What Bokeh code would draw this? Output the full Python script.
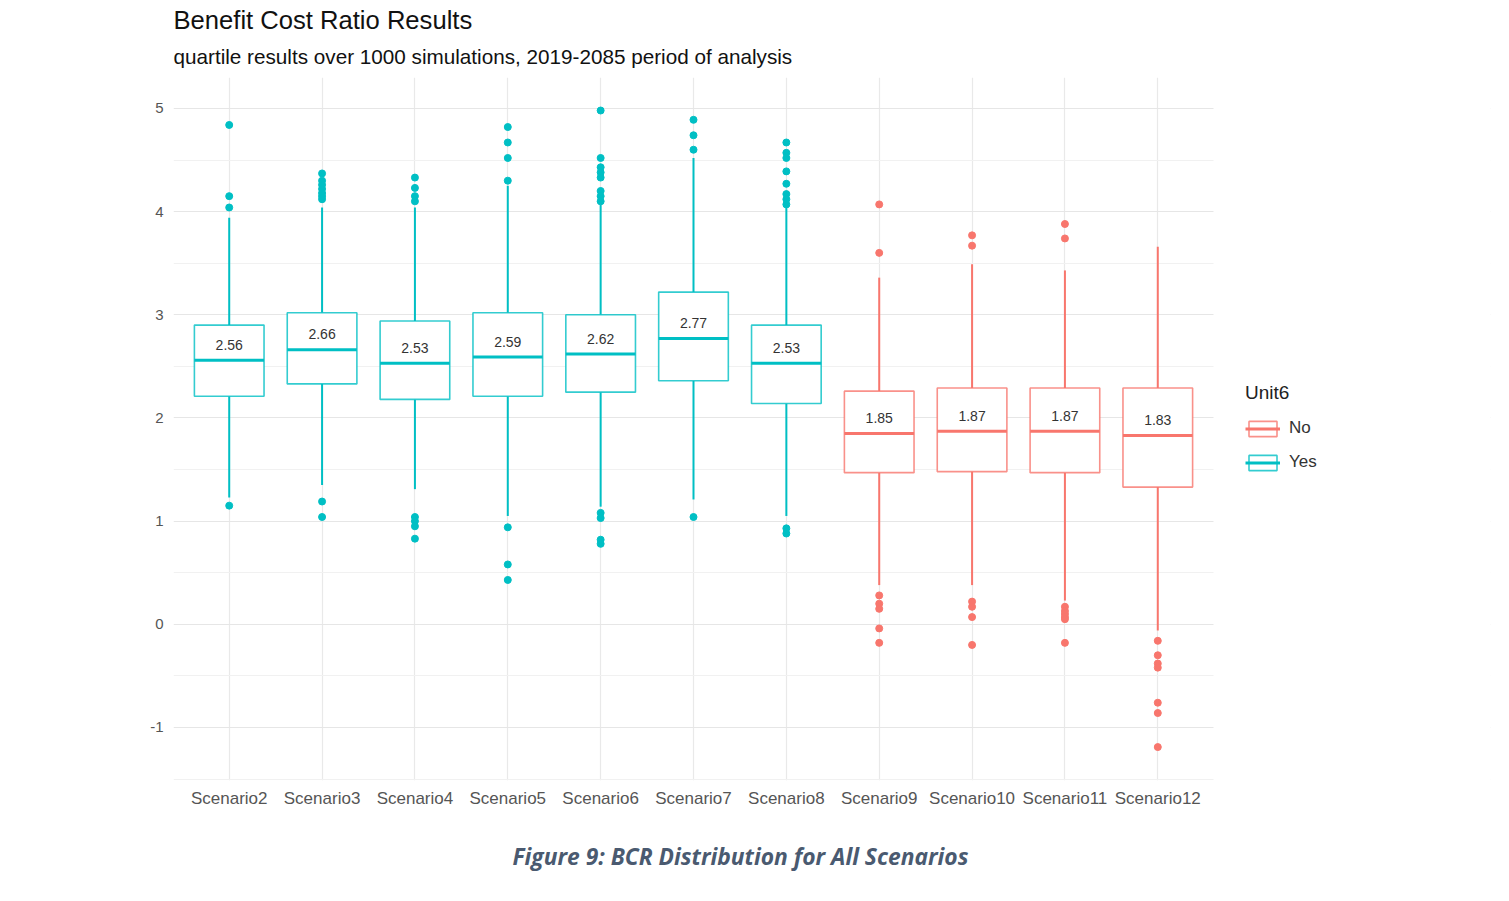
from bokeh.plotting import figure
from bokeh.models import (ColumnDataSource, FixedTicker, Legend, LegendItem, Range1d, Title,
                          BoxAnnotation)
from bokeh.embed import file_html
from bokeh.resources import INLINE
from bokeh.core.properties import value

# ---------------- data ----------------
scenarios = ["Scenario2", "Scenario3", "Scenario4", "Scenario5", "Scenario6", "Scenario7",
             "Scenario8", "Scenario9", "Scenario10", "Scenario11", "Scenario12"]
unit6 = ["Yes", "Yes", "Yes", "Yes", "Yes", "Yes", "Yes", "No", "No", "No", "No"]
q1 = [2.21, 2.33, 2.18, 2.21, 2.25, 2.36, 2.14, 1.47, 1.48, 1.47, 1.33]
median = [2.56, 2.66, 2.53, 2.59, 2.62, 2.77, 2.53, 1.85, 1.87, 1.87, 1.83]
q3 = [2.90, 3.02, 2.94, 3.02, 3.00, 3.22, 2.90, 2.26, 2.29, 2.29, 2.29]
whisker_low = [1.23, 1.35, 1.31, 1.05, 1.14, 1.21, 1.05, 0.38, 0.38, 0.23, -0.06]
whisker_high = [3.94, 4.04, 4.04, 4.25, 4.07, 4.52, 4.04, 3.36, 3.49, 3.43, 3.66]
outliers = [
    [4.84, 4.15, 4.04, 1.15],
    [4.37, 4.30, 4.26, 4.22, 4.18, 4.15, 4.12, 1.19, 1.04],
    [4.33, 4.23, 4.15, 4.10, 1.04, 1.00, 0.95, 0.83],
    [4.82, 4.67, 4.52, 4.30, 0.94, 0.58, 0.43],
    [4.98, 4.52, 4.43, 4.38, 4.33, 4.20, 4.15, 4.10, 1.08, 1.03, 0.82, 0.78],
    [4.89, 4.74, 4.60, 1.04],
    [4.67, 4.57, 4.52, 4.39, 4.27, 4.17, 4.12, 4.07, 0.93, 0.88],
    [4.07, 3.60, 0.28, 0.20, 0.15, -0.04, -0.18],
    [3.77, 3.67, 0.22, 0.17, 0.07, -0.20],
    [3.88, 3.74, 0.17, 0.13, 0.10, 0.07, 0.05, -0.18],
    [-0.16, -0.30, -0.38, -0.42, -0.76, -0.86, -1.19],
]
y_ticks = [-1, 0, 1, 2, 3, 4, 5]
y_tick_labels = ["-1", "0", "1", "2", "3", "4", "5"]
groups = ["No", "Yes"]
group_colors = {"No": "#F8766D", "Yes": "#00BFC4"}

title_text = "Benefit Cost Ratio Results"
subtitle_text = "quartile results over 1000 simulations, 2019-2085 period of analysis"
caption_text = "Figure 9: BCR Distribution for All Scenarios"
legend_title = "Unit6"

# ---------------- figure ----------------
FONT = "Liberation Sans"
BOX_W = 0.75
PANEL_END = 11.6          # right end of the plotting panel (data units)
PX_PER_UNIT = 1040 / 11.2  # horizontal scale of the panel
FRAME_W = 1317             # frame extends past the panel to host the legend
x_end = 0.4 + FRAME_W / PX_PER_UNIT

p = figure(width=1500, height=900,
           x_range=Range1d(0.4, x_end), y_range=Range1d(-1.514, 5.30),
           output_backend="svg", toolbar_location=None,
           min_border_left=173, min_border_right=1500 - 173 - FRAME_W,
           min_border_top=77, min_border_bottom=120)
p.outline_line_color = None
p.background_fill_color = "white"
p.border_fill_color = "white"

# axes
p.xaxis.ticker = FixedTicker(ticks=list(range(1, len(scenarios) + 1)))
p.xaxis.major_label_overrides = {i + 1: s for i, s in enumerate(scenarios)}
p.yaxis.ticker = FixedTicker(ticks=y_ticks, minor_ticks=[t + 0.5 for t in [-2] + y_ticks])
p.yaxis.major_label_overrides = dict(zip(y_ticks, y_tick_labels))
for ax in (p.xaxis[0], p.yaxis[0]):
    ax.axis_line_color = None
    ax.major_tick_line_color = None
    ax.minor_tick_line_color = None
    ax.major_label_text_font = FONT
    ax.major_label_text_color = "#555555"
p.xaxis.major_label_text_font_size = "17px"
p.yaxis.major_label_text_font_size = "15px"
p.xaxis.major_label_standoff = 2
p.yaxis.major_label_standoff = 4

p.xgrid.grid_line_color = "#e9e9e9"
p.xgrid.grid_line_width = 1.2
p.ygrid.grid_line_color = "#e6e6e6"
p.ygrid.grid_line_width = 1.2
p.ygrid.minor_grid_line_color = "#f1f1f1"
p.ygrid.minor_grid_line_width = 1.0

# blank out the grid to the right of the panel (legend area)
p.add_layout(BoxAnnotation(left=PANEL_END, fill_color="white", fill_alpha=1.0,
                           line_color=None))

legend_items = {}
for g in groups:
    idx = [i for i, u in enumerate(unit6) if u == g]
    xs = [i + 1 for i in idx]
    c = group_colors[g]
    src = ColumnDataSource(dict(
        x=xs,
        x0=[x - BOX_W / 2 for x in xs],
        x1=[x + BOX_W / 2 for x in xs],
        q1=[q1[i] for i in idx],
        q3=[q3[i] for i in idx],
        med=[median[i] for i in idx],
        lo=[whisker_low[i] for i in idx],
        hi=[whisker_high[i] for i in idx],
        lab=["%.2f" % median[i] for i in idx],
        laby=[median[i] + 0.15 for i in idx],
    ))
    p.segment(x0="x", y0="q3", x1="x", y1="hi", source=src, line_color=c, line_width=2)
    p.segment(x0="x", y0="q1", x1="x", y1="lo", source=src, line_color=c, line_width=2)
    box = p.vbar(x="x", width=BOX_W, bottom="q1", top="q3", source=src,
                 fill_color="white", line_color=c, line_alpha=0.8, line_width=1.6)
    med = p.segment(x0="x0", y0="med", x1="x1", y1="med", source=src,
                    line_color=c, line_width=3)
    ox, oy = [], []
    for i in idx:
        for v in outliers[i]:
            ox.append(i + 1)
            oy.append(v)
    p.scatter(ox, oy, size=7, fill_color=c, line_color=c)
    p.text(x="x", y="laby", text="lab", source=src, text_align="center",
           text_baseline="middle", text_font=value(FONT), text_font_size="14px",
           text_color="#333333")
    legend_items[g] = LegendItem(label=g, renderers=[box, med])

legend = Legend(items=[legend_items["No"], legend_items["Yes"]],
                location=(1072, 308), title=legend_title,
                title_text_font=FONT, title_text_font_size="19px",
                title_text_font_style="normal", title_text_color="#222222",
                title_standoff=14,
                label_text_font=FONT, label_text_font_size="17px", label_text_color="#333333",
                glyph_width=35, glyph_height=19, label_height=19, label_standoff=9,
                spacing=14, padding=0, margin=0,
                border_line_color=None, background_fill_alpha=0)
p.add_layout(legend, "center")

# titles (subtitle added first so it sits nearest the plot) and caption
p.add_layout(Title(text=subtitle_text, align="left", text_font=FONT,
                   text_font_size="20.7px", text_font_style="normal",
                   text_color="#111111", standoff=19), "above")
p.add_layout(Title(text=title_text, align="left", text_font=FONT,
                   text_font_size="25.6px", text_font_style="normal",
                   text_color="#111111", standoff=0), "above")
p.add_layout(Title(text=caption_text, align="left", offset=339, text_font="Open Sans",
                   text_font_size="22.8px", text_font_style="bold italic",
                   text_color="#4A5A70", standoff=56), "below")

open("out.html", "w").write(file_html(p, INLINE))
